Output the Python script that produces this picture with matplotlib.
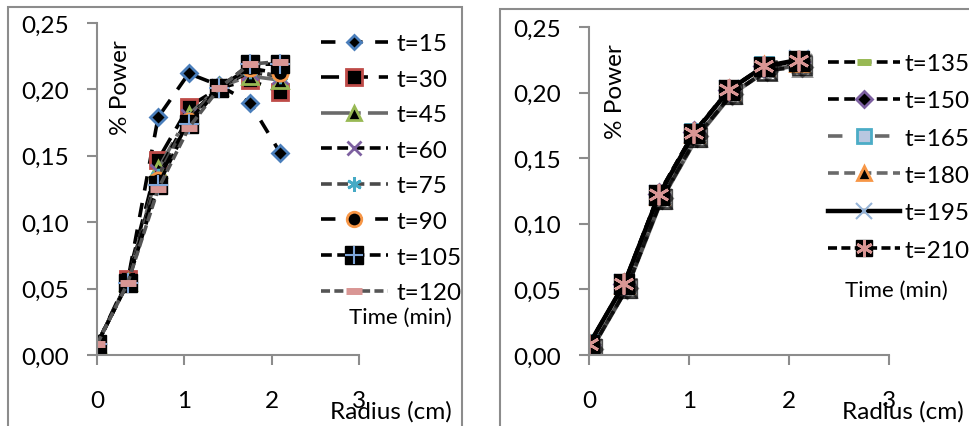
import matplotlib.pyplot as plt
import matplotlib.patheffects as pe
from matplotlib.patches import Rectangle
from matplotlib.ticker import FuncFormatter
import numpy as np

plt.rcParams['font.family'] = ['Lato', 'DejaVu Sans']

# radius positions (cm)
radius = [0.0, 0.35, 0.7, 1.05, 1.4, 1.75, 2.1]

# left panel: t = 15 ... 120 min
t15 = [0.008, 0.055, 0.179, 0.212, 0.203, 0.190, 0.152]
t30 = [0.008, 0.057, 0.147, 0.187, 0.201, 0.207, 0.198]
t45 = [0.008, 0.055, 0.140, 0.181, 0.202, 0.210, 0.207]
t60 = [0.008, 0.055, 0.138, 0.179, 0.202, 0.213, 0.210]
t75 = [0.008, 0.055, 0.135, 0.178, 0.202, 0.214, 0.210]
t90 = [0.008, 0.055, 0.132, 0.176, 0.202, 0.216, 0.212]
t105 = [0.008, 0.054, 0.128, 0.174, 0.201, 0.219, 0.219]
t120 = [0.008, 0.054, 0.125, 0.171, 0.201, 0.219, 0.221]

# right panel: t = 135 ... 210 min
t135 = [0.008, 0.054, 0.123, 0.170, 0.202, 0.220, 0.223]
t150 = [0.008, 0.054, 0.123, 0.170, 0.202, 0.220, 0.223]
t165 = [0.008, 0.054, 0.122, 0.169, 0.202, 0.220, 0.224]
t180 = [0.008, 0.054, 0.122, 0.169, 0.202, 0.220, 0.223]
t195 = [0.008, 0.054, 0.122, 0.169, 0.202, 0.220, 0.225]
t210 = [0.008, 0.054, 0.122, 0.169, 0.202, 0.220, 0.224]

FS = 17.5
W, H = 969, 427
fig = plt.figure(figsize=(W / 100, H / 100), dpi=100)

# panel frames
fig.patches.append(Rectangle((8 / W, -0.1), 454 / W, 1.1 - 8 / H, transform=fig.transFigure,
                             fill=False, ec='#8c8c8c', lw=1.5))
fig.patches.append(Rectangle((500 / W, -0.1), 0.6, 1.1 - 10 / H, transform=fig.transFigure,
                             fill=False, ec='#8c8c8c', lw=1.5))

ax1 = fig.add_axes([97 / W, (H - 356) / H, 262 / W, 332 / H])
ax2 = fig.add_axes([589 / W, (H - 356) / H, 300 / W, 328 / H])

fmt = FuncFormatter(lambda v, p: f"{v:.2f}".replace('.', ','))
for ax, xr in ((ax1, 452), (ax2, 964)):
    ax.set_xlim(0, 3)
    ax.set_ylim(0, 0.25)
    ax.set_xticks([0, 1, 2, 3])
    ax.set_yticks(np.arange(0, 0.26, 0.05))
    ax.yaxis.set_major_formatter(fmt)
    for s in ('top', 'right'):
        ax.spines[s].set_visible(False)
    for s in ('left', 'bottom'):
        ax.spines[s].set_color('#8c8c8c')
        ax.spines[s].set_linewidth(1.5)
    ax.tick_params(axis='x', direction='out', length=7, width=1.5, color='#8c8c8c', pad=18, labelsize=FS)
    ax.tick_params(axis='y', direction='out', length=7, width=1.5, color='#8c8c8c', pad=13, labelsize=FS)
    ax.patch.set_alpha(0)
    ax.text(0.09, 0.95, '% Power', rotation=90, transform=ax.transAxes, fontsize=FS,
            ha='center', va='top')
    fig.text(xr / W, 1 - 412 / H, 'Radius (cm)', fontsize=FS, ha='right', va='center')
    for lab in ax.get_xticklabels() + ax.get_yticklabels():
        lab.set_clip_on(False)

lw = 2.6
# ---- left panel
h = []
h.append(ax1.plot(radius, t15, color='k', lw=lw, dashes=(4, 3.5), marker='D', ms=8,
                  mfc='k', mec='#4a7ebb', mew=2, label='t=15')[0])
h.append(ax1.plot(radius, t30, color='k', lw=lw, dashes=(5, 3), marker='s', ms=12,
                  mfc='k', mec='#be4b48', mew=2, label='t=30')[0])
h.append(ax1.plot(radius, t45, color='#6a6a6a', lw=lw, dashes=(8, 2, 1, 2), marker='^', ms=11,
                  mfc='k', mec='#98b954', mew=2, label='t=45')[0])
h.append(ax1.plot(radius, t60, color='k', lw=lw, dashes=(3, 1.5), marker='x', ms=11,
                  mec='#7d60a0', mew=2, label='t=60')[0])
h.append(ax1.plot(radius, t75, color='#4a4a4a', lw=lw, dashes=(3, 1.5), marker=(6, 2, 0), ms=11,
                  mec='#46aac5', mew=2, label='t=75')[0])
h.append(ax1.plot(radius, t90, color='k', lw=lw, dashes=(4, 3.5), marker='o', ms=11,
                  mfc='k', mec='#f79646', mew=2, label='t=90')[0])
l105 = ax1.plot(radius, t105, color='k', lw=lw, dashes=(3, 1.5), marker='s', ms=13,
                mfc='k', mec='k', label='t=105')[0]
p105 = ax1.plot(radius, t105, ls='none', marker='+', ms=14, mec='#7ea5d8', mew=1.5)[0]
h.append((l105, p105))
h.append(ax1.plot(radius, t120, color='#555555', lw=lw, dashes=(2.5, 1.2), marker='_', ms=12,
                  mec='#d99694', mew=5, label='t=120')[0])

labels1 = ['t=15', 't=30', 't=45', 't=60', 't=75', 't=90', 't=105', 't=120']
ax1.legend(h, labels1, loc='upper left', bbox_to_anchor=(321 / W, 1 - 34 / H),
           bbox_transform=fig.transFigure, frameon=False, fontsize=FS, handlelength=2.75,
           labelspacing=0.6, handletextpad=0.35, borderaxespad=0, borderpad=0, markerscale=0.95)
fig.text(452 / W, 1 - 318 / H, 'Time (min)', fontsize=16, ha='right', va='center')

# ---- right panel
g = []
g.append(ax2.plot(radius, t135, color='k', lw=lw, dashes=(3, 1.5), marker='_', ms=13,
                  mec='#98b954', mew=5, label='t=135')[0])
g.append(ax2.plot(radius, t150, color='k', lw=lw, dashes=(3, 1.5), marker='D', ms=10,
                  mfc='k', mec='#7d60a0', mew=2, label='t=150')[0])
g.append(ax2.plot(radius, t165, color='#6a6a6a', lw=lw, dashes=(4, 4, 1, 4), marker='s', ms=13,
                  mfc='#b8c7e0', mec='#4bacc6', mew=2, label='t=165')[0])
g.append(ax2.plot(radius, t180, color='#6a6a6a', lw=lw, dashes=(3, 1.5), marker='^', ms=13,
                  mfc='k', mec='#f79646', mew=2, label='t=180')[0])
g.append(ax2.plot(radius, t195, color='k', lw=3.2, marker='x', ms=14,
                  mec='#95b3d7', mew=1.5, label='t=195')[0])
l210 = ax2.plot(radius, t210, color='k', lw=lw, dashes=(2.5, 1.2), marker='s', ms=14,
                mfc='k', mec='k', label='t=210')[0]
p210 = ax2.plot(radius, t210, ls='none', marker=(6, 2, 0), ms=15, mec='#d99694', mew=2)[0]
g.append((l210, p210))

labels2 = ['t=135', 't=150', 't=165', 't=180', 't=195', 't=210']
ax2.legend(g, labels2, loc='upper left', bbox_to_anchor=(828 / W, 1 - 54 / H),
           bbox_transform=fig.transFigure, frameon=False, fontsize=FS, handlelength=2.95,
           labelspacing=0.67, handletextpad=0.2, borderaxespad=0, borderpad=0, markerscale=0.8)
fig.text(948 / W, 1 - 291 / H, 'Time (min)', fontsize=16, ha='right', va='center')

# drop shadow on the right-hand curves only (legend handles already copied)
sh = [pe.SimpleLineShadow(offset=(2, -3), shadow_color='k', alpha=0.45), pe.Normal()]
for ln in ax2.get_lines():
    ln.set_path_effects(sh)

fig.savefig('out.png', dpi=100)
